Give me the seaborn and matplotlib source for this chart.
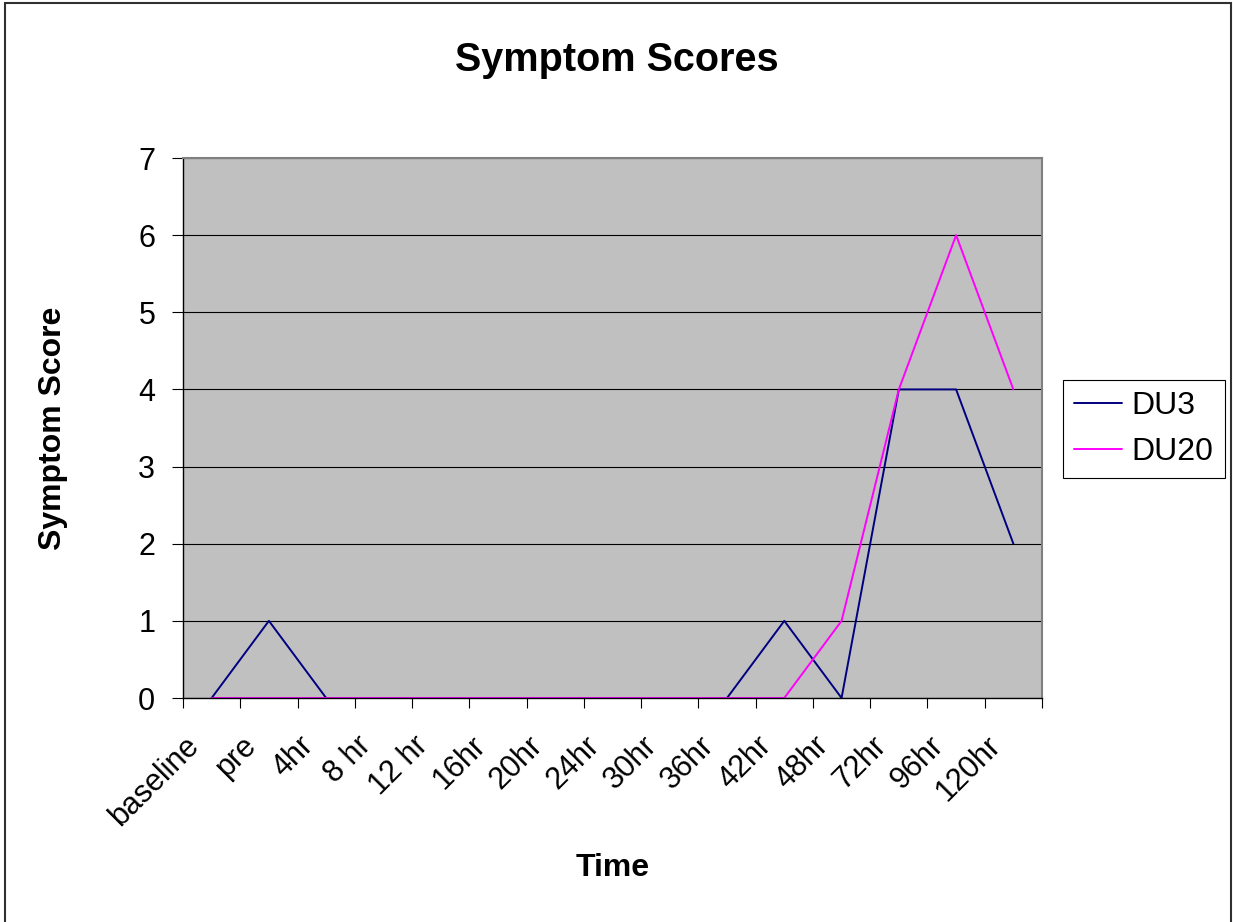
import numpy as np
import pandas as pd
import matplotlib
matplotlib.use("Agg")
import matplotlib.pyplot as plt
import seaborn as sns
from matplotlib.patches import Rectangle

# chart data
times = ["baseline", "pre", "4hr", "8 hr", "12 hr", "16hr", "20hr", "24hr",
         "30hr", "36hr", "42hr", "48hr", "72hr", "96hr", "120hr"]
du3 = [0, 1, 0, 0, 0, 0, 0, 0, 0, 0, 1, 0, 4, 4, 2]
du20 = [0, 0, 0, 0, 0, 0, 0, 0, 0, 0, 0, 1, 4, 6, 4]
series_names = ["DU3", "DU20"]
y_ticks = [0, 1, 2, 3, 4, 5, 6, 7]

df = pd.concat([
    pd.DataFrame({"Time": times, "Score": du3, "Series": "DU3"}),
    pd.DataFrame({"Time": times, "Score": du20, "Series": "DU20"}),
])

sns.set_theme(style="white")
plt.rcParams["font.family"] = ["Liberation Sans", "DejaVu Sans"]
plt.rcParams["text.color"] = "black"
plt.rcParams["axes.labelcolor"] = "black"
plt.rcParams["xtick.color"] = "black"
plt.rcParams["ytick.color"] = "black"

fig = plt.figure(figsize=(12.33, 9.22), dpi=100)
ax = fig.add_axes([183 / 1233, 1 - 698 / 922, (1042 - 183) / 1233, (698 - 158) / 922])
ax.set_facecolor("#C0C0C0")

sns.lineplot(data=df, x="Time", y="Score", hue="Series", hue_order=series_names,
             palette={"DU3": "#000080", "DU20": "#FF00FF"}, linewidth=1.4,
             sort=False, ax=ax)

n = len(times)
ax.set_xlim(-0.5, n - 0.5)
ax.set_ylim(0, 7)
ax.set_yticks(y_ticks)
ax.yaxis.grid(True, color="black", linewidth=0.8)
ax.set_axisbelow(True)

# Excel-style: tick marks between categories, labels near centres
ax.set_xticks(np.arange(-0.5, n, 1.0))
ax.set_xticklabels([])
ax.set_xticks(np.arange(n) - 0.3, minor=True)
ax.set_xticklabels(times, minor=True, rotation=45, ha="right", va="center",
                   rotation_mode="anchor", fontsize=22)
ax.tick_params(axis="x", which="major", direction="out", length=7, width=0.8,
               color="black", bottom=True)
ax.tick_params(axis="x", which="minor", length=0, pad=31)
ax.tick_params(axis="y", direction="out", length=8, width=0.8, color="black",
               left=True, labelsize=22, pad=12)

for side in ["top", "right"]:
    ax.spines[side].set_color("#808080")
    ax.spines[side].set_linewidth(1.5)
for side in ["left", "bottom"]:
    ax.spines[side].set_color("black")
    ax.spines[side].set_linewidth(1.0)

ax.set_xlabel("Time", fontsize=23, fontweight="bold")
ax.set_ylabel("Symptom Score", fontsize=23, fontweight="bold")
ax.xaxis.set_label_coords(0.5, (698 - 853) / 540)
ax.yaxis.set_label_coords((68 - 183) / 859, 0.5)
fig.suptitle("Symptom Scores", fontsize=28.5, fontweight="bold", y=1 - 60 / 922, va="center")

handles, labels = ax.get_legend_handles_labels()
ax.legend(handles, labels, loc="upper left", bbox_to_anchor=(1063 / 1233, 1 - 380 / 922),
          bbox_transform=fig.transFigure, borderaxespad=0, fontsize=23, frameon=True,
          fancybox=False, edgecolor="black", facecolor="white", framealpha=1,
          handlelength=1.5, handletextpad=0.3, borderpad=0.35, labelspacing=0.5,
          title=None)
ax.get_legend().get_frame().set_linewidth(0.8)

fig.patches.append(Rectangle((5 / 1233, -0.01), (1231 - 5) / 1233, 1.01 - 3 / 922,
                             transform=fig.transFigure, fill=False,
                             edgecolor="#303030", linewidth=1.5))

fig.savefig("out.png", dpi=100)
